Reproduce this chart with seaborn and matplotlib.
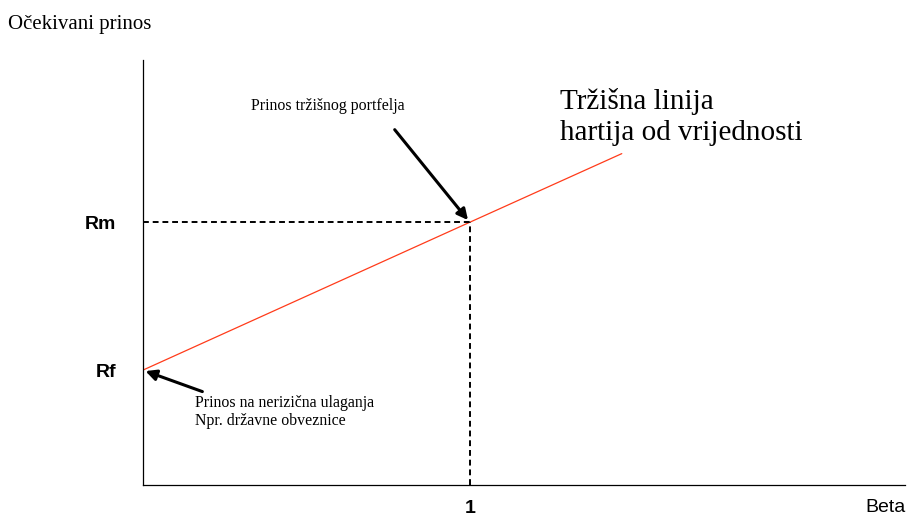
import matplotlib
matplotlib.use("Agg")
import matplotlib.pyplot as plt
import seaborn as sns
import pandas as pd

# Security market line (conceptual values)
beta = [0.0, 1.0, 1.465]
sml_return = [4.0, 9.15, 11.54]
rf_value = 4.0
rm_value = 9.15
market_beta = 1.0

y_tick_labels = ["Rf", "Rm"]
x_tick_labels = ["1"]

sns.set_style("white")
plt.rcParams['font.family'] = ['Liberation Serif', 'DejaVu Serif']
plt.rcParams['text.color'] = 'black'
plt.rcParams['xtick.color'] = 'black'
plt.rcParams['ytick.color'] = 'black'

fig = plt.figure(figsize=(9.10, 5.17), dpi=100)
ax = fig.add_axes([0.157, 0.0619, 0.837, 0.822])

df = pd.DataFrame({"beta": beta, "ret": sml_return})
sns.lineplot(data=df, x="beta", y="ret", ax=ax, color="#ff3b1a", linewidth=0.9)

# dashed guides to the market portfolio
ax.plot([0, market_beta], [rm_value, rm_value], color="black", linestyle=(0, (3, 2)), linewidth=1.4)
ax.plot([market_beta, market_beta], [0, rm_value], color="black", linestyle=(0, (3, 2)), linewidth=1.4)

ax.set_xlim(0, 2.33)
ax.set_ylim(0, 14.8)

for side in ["top", "right"]:
    ax.spines[side].set_visible(False)
for side in ["left", "bottom"]:
    ax.spines[side].set_color("black")
    ax.spines[side].set_linewidth(0.9)

ax.set_yticks([rf_value, rm_value])
ax.set_yticklabels(y_tick_labels, fontfamily="Liberation Sans", fontweight="bold", fontsize=14)
ax.set_xticks([market_beta])
ax.set_xticklabels(x_tick_labels, fontfamily="Liberation Sans", fontweight="bold", fontsize=14)
ax.tick_params(axis="y", length=0, pad=19)
ax.tick_params(axis="x", length=0, pad=11)
ax.set_xlabel("")
ax.set_ylabel("")

fig.text(0.0088, 0.952, "Očekivani prinos", fontsize=15, ha="left", va="center")
fig.text(0.995, 0.002, "Beta", fontfamily="Liberation Sans", fontsize=14, ha="right", va="bottom")

ax.text(1.275, 12.8, "Tržišna linija\nhartija od vrijednosti", fontsize=21, ha="left", va="center",
        linespacing=1.25)

ax.text(0.33, 13.2, "Prinos tržišnog portfelja", fontsize=11.4, ha="left", va="center")
ax.annotate("", xy=(market_beta, rm_value), xytext=(0.765, 12.45),
            arrowprops=dict(arrowstyle="-|>", color="black", lw=2.2, mutation_scale=16))

ax.text(0.16, 2.54, "Prinos na nerizična ulaganja\nNpr. državne obveznice", fontsize=11.4,
        ha="left", va="center", linespacing=1.2)
ax.annotate("", xy=(0, rf_value), xytext=(0.19, 3.22),
            arrowprops=dict(arrowstyle="-|>", color="black", lw=2.2, mutation_scale=16))

fig.savefig("out.png", dpi=100)
